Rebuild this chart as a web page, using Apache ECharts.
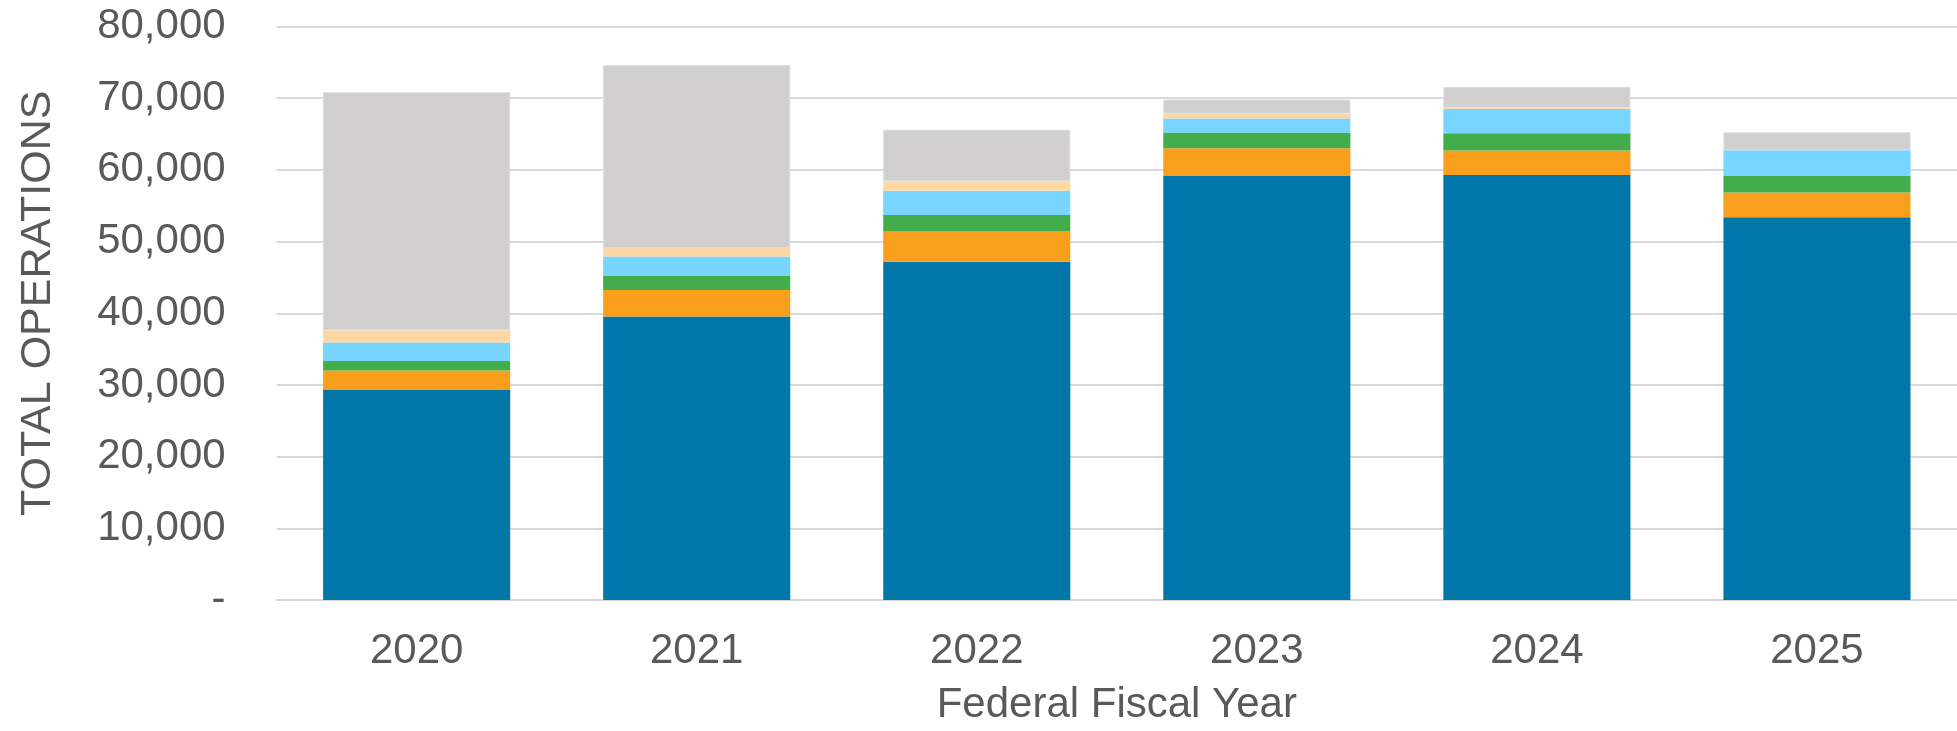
<!DOCTYPE html>
<html>
<head>
<meta charset="utf-8">
<script src="https://cdn.jsdelivr.net/npm/echarts@6/dist/echarts.min.js"></script>
<style>
html,body{margin:0;padding:0;background:#fff;}
#chart{width:1957px;height:731px;}
</style>
</head>
<body>
<div id="chart"></div>
<script>
const categories = ['2020', '2021', '2022', '2023', '2024', '2025'];
const seriesA = [29300, 39550, 47200, 59150, 59280, 53400];
const seriesB = [2700, 3700, 4200, 3850, 3430, 3430];
const seriesC = [1330, 2000, 2300, 2200, 2400, 2300];
const seriesD = [2600, 2650, 3400, 1950, 3430, 3610];
const seriesE = [1700, 1200, 1300, 700, 140, 0];
const seriesF = [33200, 25500, 7200, 1950, 2870, 2500];
const yTicks = { min: 0, max: 80000, interval: 10000 };

const colors = ['#0077A8', '#F99F1C', '#42AD4A', '#77D5FF', '#FDD8A5', '#D0CECF'];
const font = 'Arial, "Liberation Sans", sans-serif';
const chart = echarts.init(document.getElementById('chart'), null, { renderer: 'canvas' });

const mk = (name, data, i) => ({
  name: name,
  type: 'bar',
  stack: 'total',
  data: data,
  barCategoryGap: '33.2%',
  itemStyle: i === 5 ? { color: colors[i], borderColor: '#DCDCDC', borderWidth: 1 } : { color: colors[i] },
  emphasis: { disabled: true }
});

chart.setOption({
  animation: false,
  grid: { left: 276.6, right: -12.6, top: 26.5, bottom: 128.5, containLabel: false },
  xAxis: {
    type: 'category',
    data: categories,
    name: 'Federal Fiscal Year',
    nameLocation: 'middle',
    nameGap: 84,
    nameTextStyle: { fontFamily: font, fontSize: 42, color: '#595959' },
    axisLine: { show: true, lineStyle: { color: '#D9D9D9', width: 2 } },
    axisTick: { show: false },
    axisLabel: { fontFamily: font, fontSize: 42, color: '#595959', margin: 30 }
  },
  yAxis: {
    type: 'value',
    min: yTicks.min,
    max: yTicks.max,
    interval: yTicks.interval,
    name: 'TOTAL OPERATIONS',
    nameLocation: 'middle',
    nameGap: 217,
    nameTextStyle: { fontFamily: font, fontSize: 43, color: '#595959', padding: [0, 0, 0, 20] },
    axisLine: { show: false },
    axisTick: { show: false },
    splitLine: { lineStyle: { color: '#D9D9D9', width: 2 } },
    axisLabel: {
      fontFamily: font, fontSize: 42, color: '#595959', margin: 51,
      formatter: v => v === 0 ? '-' : v.toLocaleString('en-US')
    }
  },
  series: [
    mk('A', seriesA, 0),
    mk('B', seriesB, 1),
    mk('C', seriesC, 2),
    mk('D', seriesD, 3),
    mk('E', seriesE, 4),
    mk('F', seriesF, 5)
  ]
});
</script>
</body>
</html>
